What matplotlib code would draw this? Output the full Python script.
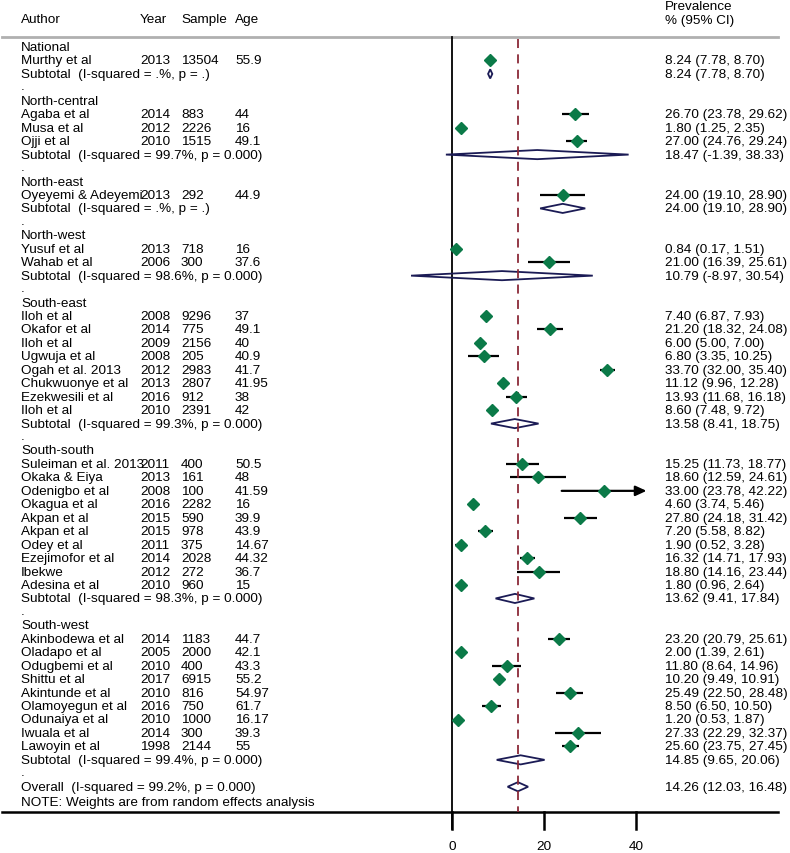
import matplotlib
matplotlib.use("Agg")
import matplotlib.pyplot as plt
from matplotlib.patches import Polygon

plt.rcParams['font.family'] = ['Liberation Sans', 'DejaVu Sans']

# ---------------- data ----------------
group_names = ["National", "North-central", "North-east", "North-west",
               "South-east", "South-south", "South-west"]

study_group = [0,
               1, 1, 1,
               2,
               3, 3,
               4, 4, 4, 4, 4, 4, 4, 4,
               5, 5, 5, 5, 5, 5, 5, 5, 5, 5,
               6, 6, 6, 6, 6, 6, 6, 6, 6]

authors = ["Murthy et al",
           "Agaba et al", "Musa et al", "Ojji et al",
           "Oyeyemi & Adeyemi",
           "Yusuf et al", "Wahab et al",
           "Iloh et al", "Okafor et al", "Iloh et al", "Ugwuja et al",
           "Ogah et al. 2013", "Chukwuonye et al", "Ezekwesili et al", "Iloh et al",
           "Suleiman et al. 2013", "Okaka & Eiya", "Odenigbo et al", "Okagua et al",
           "Akpan et al", "Akpan et al", "Odey et al", "Ezejimofor et al", "Ibekwe",
           "Adesina et al",
           "Akinbodewa et al", "Oladapo et al", "Odugbemi et al", "Shittu et al",
           "Akintunde et al", "Olamoyegun et al", "Odunaiya et al", "Iwuala et al",
           "Lawoyin et al"]

years = ["2013",
         "2014", "2012", "2010",
         "2013",
         "2013", "2006",
         "2008", "2014", "2009", "2008", "2012", "2013", "2016", "2010",
         "2011", "2013", "2008", "2016", "2015", "2015", "2011", "2014", "2012", "2010",
         "2014", "2005", "2010", "2017", "2010", "2016", "2010", "2014", "1998"]

samples = ["13504",
           "883", "2226", "1515",
           "292",
           "718", "300",
           "9296", "775", "2156", "205", "2983", "2807", "912", "2391",
           "400", "161", "100", "2282", "590", "978", "375", "2028", "272", "960",
           "1183", "2000", "400", "6915", "816", "750", "1000", "300", "2144"]

ages = ["55.9",
        "44", "16", "49.1",
        "44.9",
        "16", "37.6",
        "37", "49.1", "40", "40.9", "41.7", "41.95", "38", "42",
        "50.5", "48", "41.59", "16", "39.9", "43.9", "14.67", "44.32", "36.7", "15",
        "44.7", "42.1", "43.3", "55.2", "54.97", "61.7", "16.17", "39.3", "55"]

est = [8.24,
       26.70, 1.80, 27.00,
       24.00,
       0.84, 21.00,
       7.40, 21.20, 6.00, 6.80, 33.70, 11.12, 13.93, 8.60,
       15.25, 18.60, 33.00, 4.60, 27.80, 7.20, 1.90, 16.32, 18.80, 1.80,
       23.20, 2.00, 11.80, 10.20, 25.49, 8.50, 1.20, 27.33, 25.60]

lo = [7.78,
      23.78, 1.25, 24.76,
      19.10,
      0.17, 16.39,
      6.87, 18.32, 5.00, 3.35, 32.00, 9.96, 11.68, 7.48,
      11.73, 12.59, 23.78, 3.74, 24.18, 5.58, 0.52, 14.71, 14.16, 0.96,
      20.79, 1.39, 8.64, 9.49, 22.50, 6.50, 0.53, 22.29, 23.75]

hi = [8.70,
      29.62, 2.35, 29.24,
      28.90,
      1.51, 25.61,
      7.93, 24.08, 7.00, 10.25, 35.40, 12.28, 16.18, 9.72,
      18.77, 24.61, 42.22, 5.46, 31.42, 8.82, 3.28, 17.93, 23.44, 2.64,
      25.61, 2.61, 14.96, 10.91, 28.48, 10.50, 1.87, 32.37, 27.45]

sub_i2 = [".", "99.7", ".", "98.6", "99.3", "98.3", "99.4"]
sub_p = [".", "0.000", ".", "0.000", "0.000", "0.000", "0.000"]
sub_est = [8.24, 18.47, 24.00, 10.79, 13.58, 13.62, 14.85]
sub_lo = [7.78, -1.39, 19.10, -8.97, 8.41, 9.41, 9.65]
sub_hi = [8.70, 38.33, 28.90, 30.54, 18.75, 17.84, 20.06]

overall_i2, overall_p = "99.2", "0.000"
overall_est, overall_lo, overall_hi = 14.26, 12.03, 16.48

xticks = [0, 20, 40]

# ---------------- layout ----------------
W, H = 790, 854
X0PX, XSCALE = 452.3, 4.6
ROW0PX, ROWPX = 48.0, 13.45


def px2x(px):
    return (px - X0PX) / XSCALE


def py2r(py):
    return (py - ROW0PX) / ROWPX


GREEN = "#0b7a48"
NAVY = "#1b1b55"
RED = "#8b2a38"
FS = 9.7

fig = plt.figure(figsize=(7.9, 8.54), dpi=100)
ax = fig.add_axes([0, 0, 1, 1])
ax.set_xlim(px2x(0), px2x(W))
ax.set_ylim(py2r(H), py2r(0))
ax.axis('off')

COL_AUTH, COL_YEAR, COL_SAMP, COL_AGE, COL_CI = (px2x(21), px2x(140), px2x(181),
                                                  px2x(235), px2x(665))


def txt(x, y, s):
    ax.text(x, y, s, ha='left', va='center', fontsize=FS, color='black')


def ci_text(e, l, h):
    return f"{e:.2f} ({l:.2f}, {h:.2f})"


def diamond(e, l, h, y):
    hh = 0.34
    poly = Polygon([(l, y), (e, y - hh), (h, y), (e, y + hh)], closed=True,
                   facecolor='none', edgecolor=NAVY, lw=1.3, zorder=4)
    ax.add_patch(poly)


# headers
hy = py2r(20)
txt(COL_AUTH, hy, "Author")
txt(COL_YEAR, hy, "Year")
txt(COL_SAMP, hy, "Sample")
txt(COL_AGE, hy, "Age")
txt(COL_CI, py2r(7.5), "Prevalence")
txt(COL_CI, py2r(21), "% (95% CI)")

arrow_limit = max(xticks)

row = 0
for g, name in enumerate(group_names):
    if g > 0:
        txt(COL_AUTH, row - 0.1, ".")
        row += 1
    txt(COL_AUTH, row, name)
    row += 1
    for i, sg in enumerate(study_group):
        if sg != g:
            continue
        txt(COL_AUTH, row, authors[i])
        txt(COL_YEAR, row, years[i])
        txt(COL_SAMP, row, samples[i])
        txt(COL_AGE, row, ages[i])
        txt(COL_CI, row, ci_text(est[i], lo[i], hi[i]))
        if hi[i] > arrow_limit:
            ax.annotate('', xy=(hi[i], row), xytext=(lo[i], row),
                        arrowprops=dict(arrowstyle='-|>,head_length=0.65,head_width=0.3',
                                        color='black', lw=1.6, shrinkA=0, shrinkB=0,
                                        mutation_scale=10),
                        zorder=3)
        else:
            ax.plot([lo[i], hi[i]], [row, row], color='black', lw=1.6,
                    solid_capstyle='butt', zorder=3)
        ax.plot(est[i], row, marker='D', ms=6.3, color=GREEN, mec=GREEN, zorder=5)
        row += 1
    txt(COL_AUTH, row, f"Subtotal  (I-squared = {sub_i2[g]}%, p = {sub_p[g]})")
    txt(COL_CI, row, ci_text(sub_est[g], sub_lo[g], sub_hi[g]))
    diamond(sub_est[g], sub_lo[g], sub_hi[g], row)
    row += 1

txt(COL_AUTH, row - 0.1, ".")
row += 1
txt(COL_AUTH, row, f"Overall  (I-squared = {overall_i2}%, p = {overall_p})")
txt(COL_CI, row, ci_text(overall_est, overall_lo, overall_hi))
diamond(overall_est, overall_lo, overall_hi, row)
row += 1
txt(COL_AUTH, row + 0.1, "NOTE: Weights are from random effects analysis")

# lines
ax.plot([px2x(2), px2x(778)], [py2r(38)] * 2, color='#b0b0b0', lw=2.0, zorder=1)
ax.plot([0, 0], [py2r(38), py2r(830)], color='black', lw=1.3, zorder=2)
ax.plot([overall_est] * 2, [py2r(40), py2r(813)], color=RED, lw=1.3,
        dashes=(5, 3.5), zorder=4)
ax.plot([px2x(2), px2x(778)], [py2r(813)] * 2, color='black', lw=1.8, zorder=2)
for t in xticks:
    ax.plot([t, t], [py2r(813), py2r(830)], color='black', lw=1.8, zorder=2)
    ax.text(t, py2r(847), f"{t}", ha='center', va='center', fontsize=FS)

fig.savefig("out.png", dpi=100)
